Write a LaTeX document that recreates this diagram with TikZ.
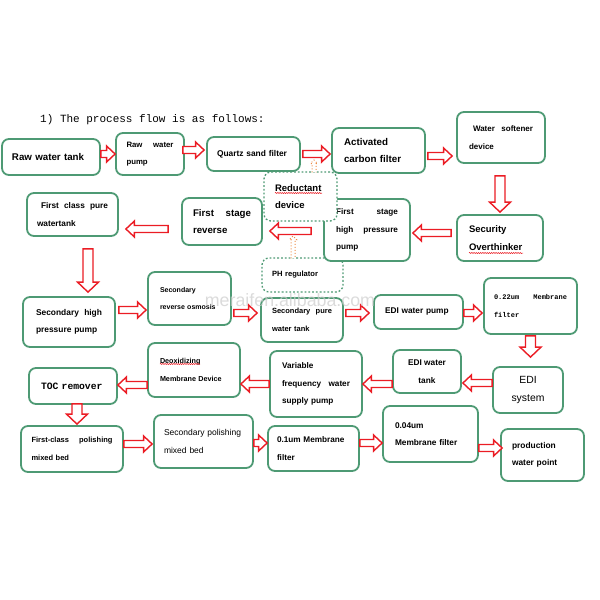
\documentclass[tikz,border=0pt]{standalone}
\usepackage{fontspec}
\setmainfont{Liberation Sans}
\newfontfamily\monofont{Liberation Mono}
\usetikzlibrary{calc, decorations.pathmorphing}
\definecolor{boxgreen}{RGB}{78,154,116}
\definecolor{arrred}{RGB}{235,28,36}
\definecolor{feedorange}{RGB}{236,140,70}
\tikzstyle{box} = [draw=boxgreen, line width=1.8pt, rounded corners=7pt, fill=white, align=left, inner sep=0pt]
\tikzstyle{dbox} = [box, dotted, line width=1.3pt]
\tikzstyle{harrow} = [draw=arrred, fill=white, line width=1.4pt, to path={let \p1=(\tikztostart), \p2=(\tikztotarget), \p3=($(\x2,\y1)!8.5pt!(\p1)$) in (\x1,\y1+3.5pt) -- (\x3,\y1+3.5pt) -- (\x3,\y1+8pt) -- (\x2,\y1) -- (\x3,\y1-8pt) -- (\x3,\y1-3.5pt) -- (\x1,\y1-3.5pt) -- cycle}]
\tikzstyle{varrow} = [draw=arrred, fill=white, line width=1.4pt, to path={let \p1=(\tikztostart), \p2=(\tikztotarget), \p3=($(\x1,\y2)!10pt!(\p1)$) in (\x1-5pt,\y1) -- (\x1-5pt,\y3) -- (\x1-10.5pt,\y3) -- (\x1,\y2) -- (\x1+10.5pt,\y3) -- (\x1+5pt,\y3) -- (\x1+5pt,\y1) -- cycle}]
\tikzstyle{feed} = [draw=feedorange, fill=white, dotted, line width=1pt, to path={let \p1=(\tikztostart), \p2=(\tikztotarget), \p3=($(\x1,\y2)!3.5pt!(\p1)$) in (\x1-2pt,\y1) -- (\x1-2pt,\y3) -- (\x1-3.5pt,\y3) -- (\x1,\y2) -- (\x1+3.5pt,\y3) -- (\x1+2pt,\y3) -- (\x1+2pt,\y1)}]
\tikzstyle{squiggle} = [arrred, line width=.5pt, decorate, decoration={snake, amplitude=.6pt, segment length=2.2pt}]
\newcommand{\bft}[1]{\fontsize{#1}{17.5}\selectfont\bfseries}
\newcommand{\rft}[1]{\fontsize{#1}{17.5}\selectfont}
\newcommand{\mft}[1]{\monofont\fontsize{#1}{17.5}\selectfont\bfseries}

\begin{document}
\begin{tikzpicture}[x=1pt, y=-1pt]
  \useasboundingbox (0,0) rectangle (600,600);
  \node[anchor=base west, inner sep=0pt, font=\monofont\fontsize{11}{13}\selectfont] (title) at (40,122) {1) The process flow is as follows:};
  % first row
  \node[box, minimum width=98pt, minimum height=36pt, text width=78pt, font=\bft{9.75}] (raw) at (51,157) {Raw water tank};
  \node[box, minimum width=68pt, minimum height=42pt, text width=47pt, font=\bft{7.8}] (pump) at (150,154) {Raw\hfill water\\pump};
  \node[box, minimum width=93pt, minimum height=34pt, text width=73pt, font=\bft{8.4}] (quartz) at (253.5,154) {Quartz sand filter};
  \node[box, minimum width=93pt, minimum height=45pt, text width=69pt, font=\bft{9.8}] (carbon) at (378.5,150.5) {Activated\\carbon filter};
  \node[box, minimum width=88pt, minimum height=51pt, text width=64pt, font=\bft{8}] (soft) at (501,137.5) {\hspace*{4pt}Water\hfill softener\\device};
  % second row
  \node[box, minimum width=91pt, minimum height=43pt, text width=71pt, font=\bft{8.3}] (tank1) at (72.5,214.5) {\hspace*{4pt}First\hfill class\hfill pure\\watertank};
  \node[box, minimum width=80pt, minimum height=47pt, text width=58pt, font=\bft{9.7}] (ro1) at (222,221.5) {First\hfill stage\\reverse};
  \node[dbox, minimum width=81pt, minimum height=34pt, text width=61pt, font=\bft{7.6}] (ph) at (302.5,275) {PH regulator};
  \node[box, minimum width=86pt, minimum height=62pt, text width=62pt, font=\bft{8.2}] (hp1) at (367,230) {First\hfill stage\\high\hfill pressure\\pump};
  \node[dbox, minimum width=73pt, minimum height=49pt, text width=51pt, font=\bft{9.5}] (red) at (300.5,196.5) {Reductant\\device};
  \node[box, minimum width=86pt, minimum height=46pt, text width=62pt, font=\bft{9.5}] (sec) at (500,238) {Security\\Overthinker};
  % third row
  \node[box, minimum width=92pt, minimum height=50pt, text width=66pt, font=\bft{8.4}] (hp2) at (69,322) {Secondary\hfill high\\pressure pump};
  \node[box, minimum width=83pt, minimum height=53pt, text width=59pt, font=\bft{7}] (ro2) at (189.5,298.5) {Secondary\\reverse osmosis};
  \node[box, minimum width=82pt, minimum height=44pt, text width=60pt, font=\bft{7.5}] (tank2) at (302,320) {Secondary\hfill pure\\water tank};
  \node[box, minimum width=89pt, minimum height=34pt, text width=67pt, font=\bft{8.3}] (edip) at (418.5,312) {EDI water pump};
  \node[box, minimum width=93pt, minimum height=56pt, text width=73pt, font=\mft{7}] (mf22) at (530.5,306) {0.22um\hfill Membrane\\filter};
  % fourth row
  \node[box, minimum width=88pt, minimum height=36pt, text width=64pt, font=\mft{9.7}] (toc) at (73,386) {TOC remover};
  \node[box, minimum width=92pt, minimum height=54pt, text width=68pt, font=\bft{7.2}] (deox) at (194,370) {Deoxidizing\\Membrane Device};
  \node[box, minimum width=92pt, minimum height=66pt, text width=68pt, font=\bft{8.2}] (vfp) at (316,384) {Variable\\frequency\hfill water\\supply pump};
  \node[box, minimum width=68pt, minimum height=43pt, align=center, font=\bft{8.3}] (edit) at (427,371.5) {EDI water\\tank};
  \node[box, minimum width=70pt, minimum height=46pt, align=center, font=\rft{10.4}] (edis) at (528,390) {EDI\\system};
  % fifth row
  \node[box, minimum width=102pt, minimum height=46pt, text width=81pt, font=\bft{7.5}] (pol1) at (72,449) {First-class\hfill polishing\\mixed bed};
  \node[box, minimum width=99pt, minimum height=53pt, text width=79pt, font=\rft{8.5}] (pol2) at (203.5,441.5) {Secondary polishing\\mixed bed};
  \node[box, minimum width=91pt, minimum height=45pt, text width=73pt, font=\bft{8.2}] (mf01) at (313.5,448.5) {0.1um Membrane\\filter};
  \node[box, minimum width=95pt, minimum height=56pt, text width=71pt, font=\bft{8.3}] (mf004) at (430.5,434) {0.04um\\Membrane filter};
  \node[box, minimum width=83pt, minimum height=52pt, text width=61pt, font=\bft{8.4}] (prod) at (542.5,455) {production\\water point};
  % flow arrows
  \draw[harrow] ([yshift=3pt]raw.east) to (pump.west);
  \draw[harrow] ([xshift=-2pt, yshift=4pt]pump.east) to ([xshift=-2pt]quartz.west);
  \draw[harrow] ([xshift=2pt]quartz.east) to ([xshift=-1pt]carbon.west);
  \draw[harrow] ([xshift=2pt, yshift=-5.5pt]carbon.east) to ([xshift=-4pt]soft.west);
  \draw[varrow] ([xshift=-1pt, yshift=-12pt]soft.south) to ([yshift=2pt]sec.north);
  \draw[harrow] ([xshift=-5pt, yshift=5pt]sec.west) to ([xshift=2pt]hp1.east);
  \draw[harrow] ([xshift=-12pt, yshift=-1pt]hp1.west) to ([xshift=7pt]ro1.east);
  \draw[harrow] ([xshift=-13pt, yshift=-7.5pt]ro1.west) to ([xshift=7pt]tank1.east);
  \draw[varrow] ([xshift=15.5pt, yshift=-12pt]tank1.south) to ([yshift=4pt]hp2.north);
  \draw[harrow] ([xshift=3pt, yshift=12pt]hp2.east) to ([xshift=-1pt]ro2.west);
  \draw[harrow] ([xshift=2pt, yshift=-14.5pt]ro2.east) to ([xshift=-3pt]tank2.west);
  \draw[harrow] ([xshift=2pt, yshift=7pt]tank2.east) to ([xshift=-4pt]edip.west);
  \draw[harrow] ([yshift=-1pt]edip.east) to ([xshift=-1pt]mf22.west);
  \draw[varrow] ([yshift=-1pt]mf22.south) to ([yshift=9pt]edis.north);
  \draw[harrow] ([yshift=7pt]edis.west) to ([xshift=1pt]edit.east);
  \draw[harrow] ([yshift=-12.5pt]edit.west) to (vfp.east);
  \draw[harrow] (vfp.west) to (deox.east);
  \draw[harrow] ([yshift=-15pt]deox.west) to (toc.east);
  \draw[varrow] ([xshift=4pt, yshift=1pt]toc.south) to ([yshift=1pt]pol1.north);
  \draw[harrow] ([yshift=5pt]pol1.east) to ([xshift=-1pt]pol2.west);
  \draw[harrow] ([yshift=-1.5pt]pol2.east) to (mf01.west);
  \draw[harrow] ([yshift=5.5pt]mf01.east) to (mf004.west);
  \draw[harrow] ([yshift=-14pt]mf004.east) to ([xshift=2pt]prod.west);
  % dosing feeds
  \coordinate (redtip) at (314,160);
  \coordinate (phtip) at (293,236);
  \draw[feed] ([xshift=13.5pt, yshift=-1pt]red.north) to (redtip);
  \draw[feed] ([xshift=-9.5pt, yshift=-1pt]ph.north) to (phtip);
  % spelling marks
  \draw[squiggle] (275,193) -- (322,193);
  \draw[squiggle] (469,253) -- (523,253);
  \draw[squiggle] (160,364) -- (200,364);
  \node[text=gray!40, opacity=.7, font=\fontsize{17.8}{18}\selectfont] (mark) at (290,300) {meraifen.alibaba.com};
\end{tikzpicture}
\end{document}
